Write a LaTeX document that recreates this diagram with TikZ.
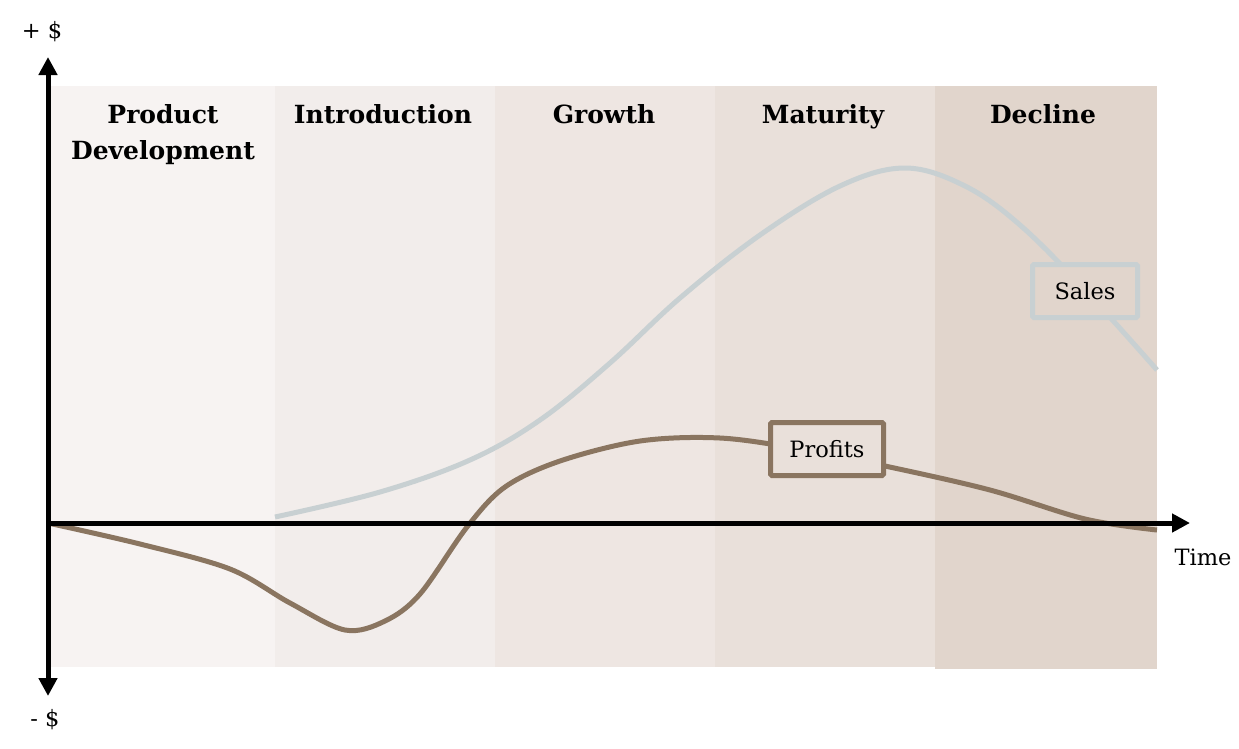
\documentclass[tikz,border=0pt]{standalone}
\usepackage{fontspec}
\setmainfont{DejaVu Serif}
\usepackage{tikz}
\usetikzlibrary{arrows.meta}

\definecolor{stageA}{HTML}{F7F3F2}
\definecolor{stageB}{HTML}{F2EDEB}
\definecolor{stageC}{HTML}{EEE6E2}
\definecolor{stageD}{HTML}{E9E0DA}
\definecolor{stageE}{HTML}{E1D5CC}
\definecolor{salesline}{HTML}{C8D0D2}
\definecolor{profitline}{HTML}{8A7560}

\tikzset{
  stagetitle/.style={font=\fontsize{25}{36}\selectfont\bfseries, align=center, anchor=base, inner sep=0pt},
  curvelabel/.style={draw, line width=5pt, rounded corners=1.5pt, font=\fontsize{22.5}{27}\selectfont, minimum height=53pt},
  axislabel/.style={font=\fontsize{22.5}{27}\selectfont, inner sep=0pt},
  axis/.style={line width=5pt, -{Triangle[length=18pt,width=18pt]}}
}

\begin{document}
\begin{tikzpicture}[x=1pt,y=-1pt]

   \useasboundingbox (0,0) rectangle (1239,748);

   % stages
   \fill[stageA] (50,86) rectangle (275,667);
   \fill[stageB] (275,86) rectangle (495,667);
   \fill[stageC] (495,86) rectangle (715,667);
   \fill[stageD] (715,86) rectangle (935,667);
   \fill[stageE] (935,86) rectangle (1157,669);

   \node[stagetitle] (develop) at (163,159) {Product\\Development};
   \node[stagetitle] (intro) at (383,123) {Introduction};
   \node[stagetitle] (growth) at (604,123) {Growth};
   \node[stagetitle] (mature) at (823,123) {Maturity};
   \node[stagetitle] (decline) at (1043,123) {Decline};

   % curves
   \draw[salesline, line width=5pt] plot[smooth, tension=0.6] coordinates {
      (275,517) (380,492) (470,460) (540,420) (610,363) (680,298) (760,235)
      (840,186) (905,168) (965,186) (1020,225) (1085,290) (1157,370)};
   \draw[profitline, line width=5pt] plot[smooth, tension=0.55] coordinates {
      (48,523) (140,544) (230,569) (290,603) (345,630) (385,621) (420,594)
      (467,527) (505,487) (560,461) (640,441) (720,438) (800,449) (885,466)
      (990,490) (1085,519) (1157,530)};

   % axes
   \coordinate (origin) at (48,523);
   \coordinate (top) at (48,57);
   \coordinate (bottom) at (48,696);
   \coordinate (right) at (1190,523);
   \draw[axis] (origin) -- (top);
   \draw[axis] (origin) -- (bottom);
   \draw[axis] (origin) -- (right);

   \node[axislabel] (plus) at (42,32) {+ \$};
   \node[axislabel] (minus) at (45,720) {- \$};
   \node[axislabel] (time) at (1203,557) {Time};

   % labels
   \node[curvelabel, draw=salesline, fill=stageE, minimum width=105pt] (sales) at (1085,291) {Sales};
   \node[curvelabel, draw=profitline, fill=stageD, minimum width=113pt] (profits) at (827,449) {Profits};

\end{tikzpicture}
\end{document}
